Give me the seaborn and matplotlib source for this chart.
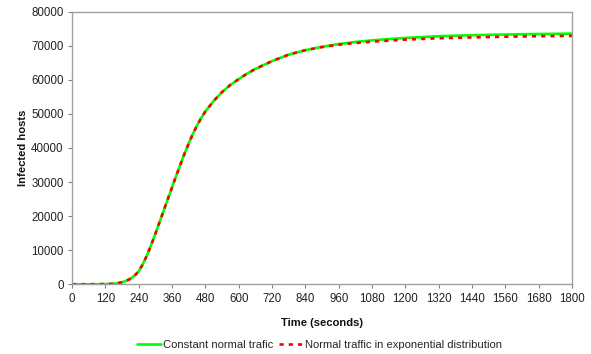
import matplotlib
matplotlib.use("Agg")
import matplotlib.pyplot as plt
import seaborn as sns
import pandas as pd

time_s = [0, 60, 120, 150, 165, 180, 195, 210, 225, 240, 255, 270, 285, 300, 315, 330, 345, 360, 375,
          390, 405, 420, 435, 450, 465, 480, 510, 540, 570, 600, 630, 660, 720, 780, 840, 900, 960,
          1020, 1080, 1200, 1320, 1440, 1560, 1680, 1800]
constant_traffic = [0, 0, 50, 150, 330, 600, 1000, 1600, 2500, 3800, 5900, 8500, 11500, 14800, 18200,
                    21600, 25000, 28400, 31800, 35100, 38300, 41300, 44100, 46600, 48800, 50700, 53800,
                    56400, 58500, 60200, 61800, 63200, 65500, 67400, 68700, 69700, 70500, 71100, 71600,
                    72300, 72800, 73100, 73300, 73450, 73550]
exponential_traffic = [0, 0, 50, 150, 330, 600, 1000, 1600, 2500, 3800, 5900, 8500, 11500, 14800, 18200,
                       21600, 25000, 28400, 31800, 35100, 38300, 41300, 44100, 46600, 48800, 50700, 53800,
                       56400, 58500, 60200, 61800, 63200, 65500, 67400, 68700, 69600, 70300, 70800, 71200,
                       71800, 72200, 72450, 72650, 72800, 72900]
series_names = ["Constant normal trafic", "Normal traffic in exponential distribution"]
x_ticks = list(range(0, 1801, 120))
y_ticks = list(range(0, 80001, 10000))

sns.set_theme(style="white")
plt.rcParams['font.family'] = ['Liberation Sans', 'DejaVu Sans']

df = pd.DataFrame({
    "t": time_s * 2,
    "v": constant_traffic + exponential_traffic,
    "s": [series_names[0]] * len(time_s) + [series_names[1]] * len(time_s),
})

fig = plt.figure(figsize=(5.91, 3.54), dpi=100)
ax = fig.add_axes([0.1218, 0.197, 0.8462, 0.770])

sns.lineplot(data=df[df.s == series_names[0]], x="t", y="v", ax=ax, color="#00ff00",
             linewidth=1.9, label=series_names[0])
sns.lineplot(data=df[df.s == series_names[1]], x="t", y="v", ax=ax, color="#ff0000",
             linewidth=1.9, linestyle=(0, (1.6, 1.9)), label=series_names[1])

ax.set_xlim(0, 1800)
ax.set_ylim(0, 80000)
ax.set_xticks(x_ticks)
ax.set_yticks(y_ticks)
ax.tick_params(axis="both", labelsize=8.3, colors="#808080", labelcolor="#222222",
               length=3, width=0.8, direction="out", bottom=True, left=True, pad=3)
for sp in ax.spines.values():
    sp.set_color("#a0a0a0")
    sp.set_linewidth(1.0)

ax.set_xlabel("Time (seconds)", fontsize=8.1, fontweight="bold", labelpad=9.5, color="#111111")
ax.set_ylabel("Infected hosts", fontsize=8.1, fontweight="bold", labelpad=2.5, color="#111111")

leg = ax.legend(loc="center", bbox_to_anchor=(0.495, -0.222), ncol=2, frameon=False,
                fontsize=8.1, handlelength=2.13, handletextpad=0.2, columnspacing=0.45)

fig.savefig("out.png", dpi=100)
